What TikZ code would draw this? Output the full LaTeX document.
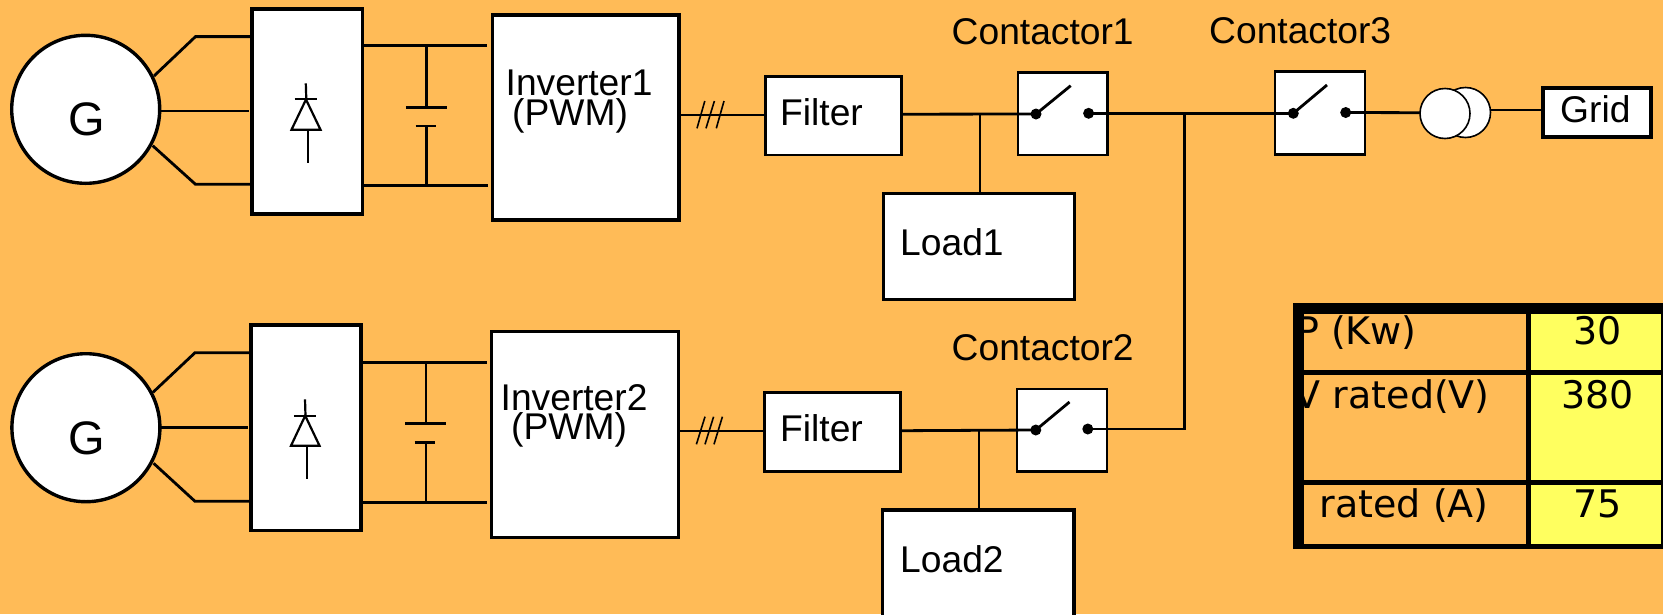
\documentclass[tikz,border=0pt]{standalone}
\usepackage{fontspec}
\setmainfont{Liberation Sans}
\newfontfamily\tablefont{DejaVu Sans}
\definecolor{bgorange}{RGB}{255,187,87}
\definecolor{cellyellow}{RGB}{255,255,95}
\tikzset{
  boxnode/.style={draw=black,fill=white,line width=3.4pt,inner sep=0pt,rectangle},
  smallbox/.style={boxnode,line width=2.8pt},
  gennode/.style={circle,draw=black,fill=white,line width=3.4pt,inner sep=0pt,minimum size=148pt},
  wire/.style={draw=black,line width=2.8pt,line cap=butt},
  thinwire/.style={draw=black,line width=2.2pt},
  sym/.style={draw=black,line width=2.2pt},
  tick/.style={draw=black,line width=1.6pt},
  lbl/.style={inner sep=0pt,anchor=base west,font=\fontsize{37.2pt}{37.2pt}\selectfont},
  glbl/.style={inner sep=0pt,anchor=base west,font=\fontsize{47pt}{47pt}\selectfont},
  tlbl/.style={inner sep=0pt,anchor=base east,font=\tablefont\fontsize{38pt}{38pt}\selectfont},
  tnum/.style={inner sep=0pt,anchor=base,font=\tablefont\fontsize{38pt}{38pt}\selectfont},
  dotnode/.style={circle,fill=black,inner sep=0pt,minimum size=11pt},
  xfmr/.style={circle,draw=black,fill=white,line width=1.6pt,inner sep=0pt,minimum size=50pt}
}
\begin{document}
\begin{tikzpicture}[x=1pt,y=-1pt]
\useasboundingbox (0,0) rectangle (1663,614);
\fill[bgorange] (0,0) rectangle (1663,614);

% ---------- upper branch ----------
\node[gennode] (g1) at (85.7,109.3) {};
\node[boxnode,minimum width=110.5pt,minimum height=205pt] (r1) at (307.2,111.5) {};
\node[boxnode,minimum width=186.5pt,minimum height=205pt] (i1) at (585.7,117.5) {};
\node[smallbox,minimum width=136pt,minimum height=78.5pt] (f1) at (833.3,115.7) {};
\node[smallbox,minimum width=89.5pt,minimum height=82.5pt] (c1) at (1062.7,113.7) {};
\node[smallbox,minimum width=191pt,minimum height=106.5pt] (l1) at (979.2,246.5) {};
\node[smallbox,minimum width=90pt,minimum height=82.5pt] (c3) at (1320,113) {};
\node[boxnode,line width=4.2pt,minimum width=108pt,minimum height=49pt] (grid) at (1597.2,112.3) {};
\node[dotnode] (c1a) at (1036,114) {};
\node[dotnode] (c1b) at (1088.6,113.3) {};
\node[dotnode] (c3a) at (1293.3,113.3) {};
\node[dotnode] (c3b) at (1345.7,112.5) {};
\node[xfmr] (t2) at (1465.5,112.5) {};
\node[xfmr] (t1) at (1445,113.5) {};

\coordinate (g1u) at (154,76);
\coordinate (g1ub) at (195.5,36.6);
\coordinate (g1ue) at (250,36.6);
\coordinate (g1m) at (160,111);
\coordinate (g1me) at (249,111);
\coordinate (g1d) at (152.7,145.7);
\coordinate (g1db) at (195.5,184.3);
\coordinate (g1de) at (250,184.3);
\draw[wire] (g1u) -- (g1ub) -- (g1ue);
\draw[wire] (g1m) -- (g1me);
\draw[wire] (g1d) -- (g1db) -- (g1de);

\coordinate (d1t) at (363,45.7);
\coordinate (d1te) at (487,45.7);
\coordinate (d1b) at (361,185.7);
\coordinate (d1be) at (488,185.7);
\draw[wire] (d1t) -- (d1te);
\draw[wire] (d1b) -- (d1be);
\coordinate (k1t) at (426.8,45.7);
\coordinate (k1p) at (426.8,107.3);
\coordinate (k1q) at (426.8,126);
\coordinate (k1b) at (426.8,185.7);
\draw[wire] (k1t) -- (k1p);
\draw[wire] (k1q) -- (k1b);
\draw[wire] (405.8,107.3) -- (447,107.3);
\draw[wire] (415.6,126) -- (436,126);

% diode 1
\draw[sym] (305.8,83.3) -- (306.3,99.5);
\draw[sym] (294.6,99.3) -- (317,99.3);
\draw[sym,line join=miter,fill=white] (306,99.5) -- (291.5,129.7) -- (320.5,129.7) -- cycle;
\draw[sym] (307.6,130) -- (307.6,163);

\coordinate (i1o) at (i1.east |- 0,115);
\coordinate (f1i) at (f1.west |- 0,115);
\draw[wire] (i1o) -- (f1i);
\draw[tick] (704.8,101) -- (697,128.3);
\draw[tick] (714.4,101) -- (706,128.3);
\draw[tick] (724,101) -- (716.3,128.3);

\coordinate (f1o) at (f1.east |- 0,114.2);
\draw[wire] (f1o) -- (c1a.center);
\coordinate (j1) at (979.8,114.2);
\coordinate (l1t) at (979.8,192.3);
\draw[thinwire] (j1) -- (l1t);
\draw[wire] (c1a.center) -- (1070.7,85.7);
\draw[wire] (c1b.center) -- (c3a.center);
\draw[wire] (c3a.center) -- (1327,85);
\coordinate (t1i) at (1420,112.7);
\draw[wire] (c3b.center) -- (t1i);
\coordinate (t2o) at (1490.5,110);
\coordinate (gi) at (grid.west |- 0,110);
\draw[wire] (t2o) -- (gi);

% ---------- lower branch ----------
\node[gennode] (g2) at (85.9,427.7) {};
\node[boxnode,minimum width=110pt,minimum height=205.5pt] (r2) at (306,427.8) {};
\node[boxnode,minimum width=187pt,minimum height=206pt] (i2) at (584.8,434.2) {};
\node[smallbox,minimum width=136.5pt,minimum height=78.5pt] (f2) at (832.5,432) {};
\node[smallbox,minimum width=90pt,minimum height=82.5pt] (c2) at (1062,430.2) {};
\node[boxnode,minimum width=191.5pt,minimum height=140pt] (l2) at (978.3,580) {};
\node[dotnode] (c2a) at (1035.8,430) {};
\node[dotnode] (c2b) at (1087.8,429) {};

\coordinate (g2u) at (153,392.3);
\coordinate (g2ub) at (195,352.7);
\coordinate (g2ue) at (249,352.7);
\coordinate (g2m) at (161,427.3);
\coordinate (g2me) at (248,427.3);
\coordinate (g2d) at (153.6,463.3);
\coordinate (g2db) at (195,501.3);
\coordinate (g2de) at (249,501.3);
\draw[wire] (g2u) -- (g2ub) -- (g2ue);
\draw[wire] (g2m) -- (g2me);
\draw[wire] (g2d) -- (g2db) -- (g2de);

\coordinate (d2t) at (362,362.4);
\coordinate (d2te) at (486.5,362.4);
\coordinate (d2b) at (360,502.4);
\coordinate (d2be) at (487,502.4);
\draw[wire] (d2t) -- (d2te);
\draw[wire] (d2b) -- (d2be);
\coordinate (k2t) at (426,362.4);
\coordinate (k2p) at (426,423.3);
\coordinate (k2q) at (426,442.3);
\coordinate (k2b) at (426,502.4);
\draw[wire] (k2t) -- (k2p);
\draw[wire] (k2q) -- (k2b);
\draw[wire] (405,423.3) -- (446,423.3);
\draw[wire] (414.6,442.3) -- (435,442.3);

% diode 2
\draw[sym] (305,399.3) -- (305.5,415.7);
\draw[sym] (293.8,415.7) -- (316,415.7);
\draw[sym,line join=miter,fill=white] (305.2,415.7) -- (291,445.7) -- (319.5,445.7) -- cycle;
\draw[sym] (307,446) -- (307,479);

\coordinate (i2o) at (i2.east |- 0,431);
\coordinate (f2i) at (f2.west |- 0,431);
\draw[wire] (i2o) -- (f2i);
\draw[tick] (705,416.7) -- (696.4,444.3);
\draw[tick] (713.6,416.7) -- (705,444.3);
\draw[tick] (722.4,416.7) -- (714,444.3);

\coordinate (f2o) at (f2.east |- 0,430.7);
\draw[wire] (f2o) -- (c2a.center);
\coordinate (j2) at (979,430.7);
\coordinate (l2t) at (979,509);
\draw[wire] (j2) -- (l2t);
\draw[wire] (c2a.center) -- (1069.5,402);
\coordinate (busb) at (1184.6,429);
\coordinate (bust) at (1184.6,113);
\draw[wire,line join=miter] (c2b.center) -- (busb) -- (bust);

% ---------- labels ----------
\node[glbl] (gt1) at (68,135) {G};
\node[glbl] (gt2) at (68.5,454) {G};
\node[lbl] (it1) at (505.5,95) {Inverter1};
\node[lbl] (pw1) at (512,125) {(PWM)};
\node[lbl] (it2) at (500.5,410.7) {Inverter2};
\node[lbl] (pw2) at (511,439.3) {(PWM)};
\node[lbl] (ft1) at (780,125.6) {Filter};
\node[lbl] (ft2) at (780,441.3) {Filter};
\node[lbl] (lt1) at (900,255.3) {Load1};
\node[lbl] (lt2) at (900,572.7) {Load2};
\node[lbl] (ct1) at (951.5,44.3) {Contactor1};
\node[lbl] (ct3) at (1209,43.7) {Contactor3};
\node[lbl] (ct2) at (951.5,360.7) {Contactor2};
\node[lbl] (gr) at (1560,122) {Grid};

% ---------- table ----------
\fill[black] (1293,303) rectangle (1663,548.7);
\fill[bgorange] (1304,313.7) rectangle (1526,370);
\fill[bgorange] (1304,375) rectangle (1526,480);
\fill[bgorange] (1304,485) rectangle (1526,544);
\fill[cellyellow] (1531,313.7) rectangle (1661,370);
\fill[cellyellow] (1531,375) rectangle (1661,480);
\fill[cellyellow] (1531,485) rectangle (1661,544);
\node[tlbl] (t11) at (1417,344) {P (Kw)};
\node[tlbl] (t21) at (1490,408) {V rated(V)};
\node[tlbl] (t31) at (1489,517.4) {I rated (A)};
\node[tnum] (t12) at (1597.5,344) {30};
\node[tnum] (t22) at (1597.5,408) {380};
\node[tnum] (t32) at (1597.5,517.4) {75};
\end{tikzpicture}
\end{document}
